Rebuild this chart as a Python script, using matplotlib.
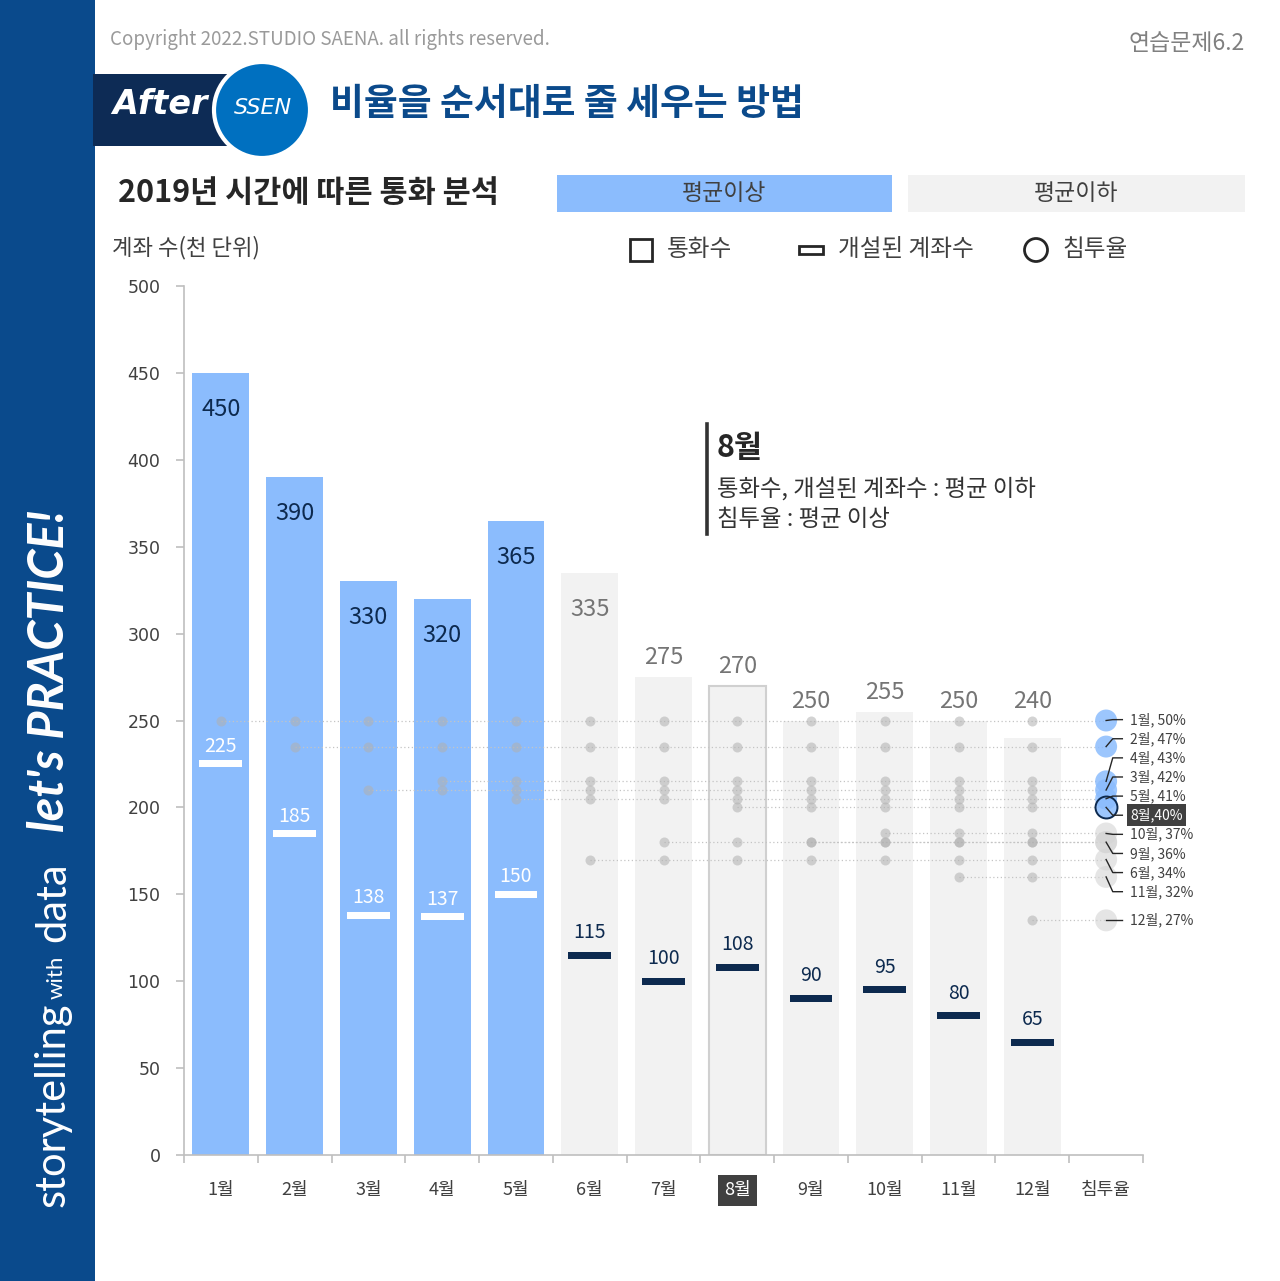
import numpy as np
import matplotlib
matplotlib.use('Agg')
import matplotlib.pyplot as plt
from matplotlib.patches import Rectangle, Circle
from matplotlib.colors import to_rgba

plt.rcParams['font.family'] = ['Noto Sans CJK KR', 'DejaVu Sans']

# ---------------- data ----------------
months = ['1월', '2월', '3월', '4월', '5월', '6월', '7월', '8월', '9월', '10월', '11월', '12월']
calls = [450, 390, 330, 320, 365, 335, 275, 270, 250, 255, 250, 240]          # 통화수
accounts = [225, 185, 138, 137, 150, 115, 100, 108, 90, 95, 80, 65]           # 개설된 계좌수
rates = [50, 47, 42, 43, 41, 34, 36, 40, 36, 37, 32, 27]                      # 침투율 (%)
rate_col_label = '침투율'
yticks = [0, 50, 100, 150, 200, 250, 300, 350, 400, 450, 500]
highlight = '8월'

BLUE = '#8bbcfd'
GRAY_BAR = '#f2f2f2'
NAVY = '#0d2a4f'
TXT = '#404040'

fig = plt.figure(figsize=(12.8, 12.81), dpi=100)
W, H = 1280, 1281
ax = fig.add_axes([184 / W, 1 - 1155 / H, (1143 - 184) / W, (1155 - 286) / H])

n = len(months)
x = np.arange(n)
acc_mean = np.mean(accounts)
rate_mean = np.mean(rates)
above = [a > acc_mean for a in accounts]
hi = months.index(highlight)
scale = 500 / 100  # 100% -> 500 on the axis

# bars
bar_colors = [BLUE if a else GRAY_BAR for a in above]
bars = ax.bar(x, calls, width=0.77, color=bar_colors, zorder=1)
bars[hi].set_edgecolor('#d0d0d0')
bars[hi].set_linewidth(1.5)

# opened-account dashes
dash_colors = ['white' if a else NAVY for a in above]
ax.bar(x, 4, bottom=np.array(accounts) - 2, width=0.58, color=dash_colors, zorder=3)

# cumulative rate dots and dotted guide lines
for i in range(n):
    ry = rates[i] * scale
    ax.plot([x[i], n], [ry, ry], color='#c4c4c4', lw=0.9, ls=(0, (1, 2)), zorder=2)
    cols = x[i:]
    ax.scatter(cols, [ry] * len(cols), s=52, color='#b0b0b0', alpha=0.55, lw=0, zorder=2.5)

# rate column circles
for i in range(n):
    ry = rates[i] * scale
    if rates[i] > rate_mean:
        fc = to_rgba(BLUE, 0.85)
    else:
        fc = to_rgba('#d4d4d4', 0.6)
    ec = NAVY if i == hi else 'none'
    ax.scatter([n], [ry], s=250, facecolors=[fc], edgecolors=ec, linewidths=1.4, zorder=4 + (i == hi))

# rate labels with simple repel
order = sorted(range(n), key=lambda i: -rates[i])
keep = {}
for i in order:
    keep[rates[i]] = i
lab_idx = sorted(keep.values(), key=lambda i: -rates[i])
gap = 11
groups = []
for i in lab_idx:
    groups.append([rates[i] * scale])
    while len(groups) > 1:
        g1, g2 = groups[-2], groups[-1]
        b1 = np.mean(g1) - (len(g1) - 1) * gap / 2
        t2 = np.mean(g2) + (len(g2) - 1) * gap / 2
        if b1 - t2 < gap:
            groups[-2] = g1 + g2
            groups.pop()
        else:
            break
positions = []
for g in groups:
    m = np.mean(g)
    k = len(g)
    positions += [m + (k - 1) * gap / 2 - t * gap for t in range(k)]

for i, ly in zip(lab_idx, positions):
    ry = rates[i] * scale
    ax.plot([n + 0.0, n + 0.09, n + 0.22], [ry, ly, ly], color='#262626', lw=1.0,
            zorder=6, clip_on=False)
    if i == hi:
        ax.text(n + 0.33, ly, f'{months[i]},{rates[i]}%', ha='left', va='center', fontsize=10,
                color='white', zorder=7,
                bbox=dict(boxstyle='square,pad=0.25', fc='#404040', ec='none'))
    else:
        ax.text(n + 0.33, ly, f'{months[i]}, {rates[i]}%', ha='left', va='center', fontsize=10,
                color=TXT, zorder=7)

# value labels
for i in range(n):
    col = NAVY if above[i] else '#757575'
    if calls[i] >= 300:
        y = calls[i] - 21
    else:
        y = max(calls[i], 250) + 11
    ax.text(x[i], y, str(calls[i]), ha='center', va='center', fontsize=17, color=col, zorder=5)
    ax.text(x[i], accounts[i] + (10 if above[i] else 13), str(accounts[i]), ha='center',
            va='center', fontsize=14, color='white' if above[i] else NAVY, zorder=5)

# axes styling
ax.set_xlim(-0.5, n + 0.5)
ax.set_ylim(0, 500)
ax.set_xticks(list(x) + [n])
ax.set_xticklabels(months + [rate_col_label])
ax.set_xticks(np.arange(-0.5, n + 1, 1), minor=True)
ax.tick_params(axis='x', which='major', length=0, pad=19, labelsize=13, labelcolor=TXT)
ax.tick_params(axis='x', which='minor', length=6, color='#bfbfbf', width=1.2)
ax.set_yticks(yticks)
ax.tick_params(axis='y', length=6, color='#bfbfbf', width=1.2, labelsize=12.5, labelcolor=TXT, pad=11)
for lab in ax.get_yticklabels():
    lab.set_fontfamily('DejaVu Sans')
for s in ['top', 'right']:
    ax.spines[s].set_visible(False)
for s in ['left', 'bottom']:
    ax.spines[s].set_color('#bfbfbf')
    ax.spines[s].set_linewidth(1.2)
hl = ax.get_xticklabels()[hi]
hl.set_color('white')
hl.set_bbox(dict(boxstyle='square,pad=0.35', fc='#404040', ec='none'))

# ---------------- overlay decorations (pixel coords) ----------------
ov = fig.add_axes([0, 0, 1, 1], zorder=10)
ov.set_xlim(0, W)
ov.set_ylim(H, 0)
ov.axis('off')
ov.patch.set_visible(False)

ov.add_patch(Rectangle((0, 0), 95, H, fc='#0a4a8c', ec='none'))
ov.text(53, 1207, 'storytelling', rotation=90, ha='center', va='bottom', fontsize=30,
        color='white', family=['Lato', 'DejaVu Sans'], weight='normal')
ov.text(57, 999, 'with', rotation=90, ha='center', va='bottom', fontsize=16,
        color='white', family=['Lato', 'DejaVu Sans'], weight='normal')
ov.text(53, 942, 'data', rotation=90, ha='center', va='bottom', fontsize=30,
        color='white', family=['Lato', 'DejaVu Sans'], weight='normal')
ov.text(50, 832, "let's PRACTICE!", rotation=90, ha='center', va='bottom', fontsize=35,
        color='white', family=['Lato', 'DejaVu Sans'], weight='bold', style='italic')

ov.text(110, 40, 'Copyright 2022.STUDIO SAENA. all rights reserved.', ha='left', va='center',
        fontsize=13.5, color='#9a9a9a', weight='light')
ov.text(1245, 44, '연습문제6.2', ha='right', va='center', fontsize=16.5, color='#808080', weight='light')

ov.add_patch(Rectangle((93, 74), 160, 72, fc='#0d2b55', ec='none'))
ov.add_patch(Circle((262, 110), 48, fc='#0070c0', ec='white', lw=3))
ov.text(160, 104, 'After', ha='center', va='center', fontsize=24, color='white',
        family=['DejaVu Sans'], weight='bold', style='italic')
ov.text(263, 108, 'SSEN', ha='center', va='center', fontsize=16, color='white',
        family=['DejaVu Sans'], style='italic')
ov.text(330, 104, '비율을 순서대로 줄 세우는 방법', ha='left', va='center', fontsize=26.5,
        color='#0b4a8b', weight='bold')

ov.text(118, 193, '2019년 시간에 따른 통화 분석', ha='left', va='center', fontsize=22,
        color='#262626', weight='bold')
ov.add_patch(Rectangle((557, 175), 335, 37, fc=BLUE, ec='none'))
ov.text(724, 193, '평균이상', ha='center', va='center', fontsize=16.5, color=TXT)
ov.add_patch(Rectangle((908, 175), 337, 37, fc=GRAY_BAR, ec='none'))
ov.text(1076, 193, '평균이하', ha='center', va='center', fontsize=16.5, color=TXT)

ov.text(112, 248, '계좌 수(천 단위)', ha='left', va='center', fontsize=16, color=TXT)
ov.add_patch(Rectangle((630, 239), 22, 22, fc='none', ec='#262626', lw=2))
ov.text(667, 250, '통화수', ha='left', va='center', fontsize=17, color=TXT)
ov.add_patch(Rectangle((799, 246), 24, 8, fc='none', ec='#262626', lw=2))
ov.text(838, 250, '개설된 계좌수', ha='left', va='center', fontsize=17, color=TXT)
ov.add_patch(Circle((1036, 250), 11.5, fc='none', ec='#262626', lw=2))
ov.text(1062, 250, '침투율', ha='left', va='center', fontsize=17, color=TXT)

ov.plot([707, 707], [424, 534], color='#333333', lw=2.6)
ov.text(717, 448, '8월', ha='left', va='center', fontsize=22, color='#262626', weight='bold')
ov.text(717, 489, '통화수, 개설된 계좌수 : 평균 이하', ha='left', va='center', fontsize=16.8, color='#333333')
ov.text(717, 519, '침투율 : 평균 이상', ha='left', va='center', fontsize=16.8, color='#333333')

fig.savefig('out.png', dpi=100, facecolor='white')
